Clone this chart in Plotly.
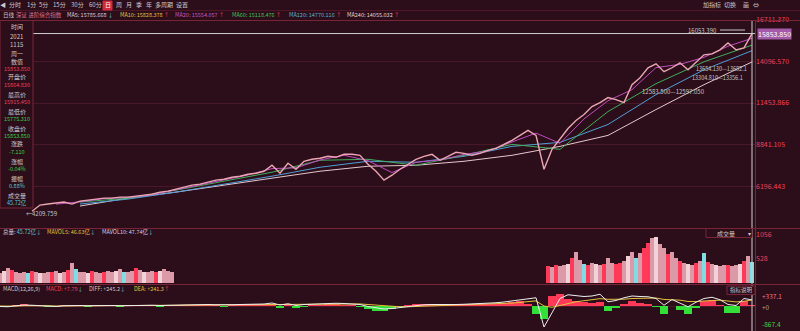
import plotly.graph_objects as go

# ---------------- data ----------------
# closing index values, one sample per chart step (last = 2021-11-15)
close = [4600, 4993, 5056, 5119, 5182, 5056, 5245, 5308, 5371, 5434,
         5434, 5497, 5497, 5560, 5623, 5686, 5812, 5875, 6001, 6127,
         6253, 6316, 6442, 6568, 6631, 6757, 6820, 6946, 7009, 7135,
         7513, 7009, 7639, 7261, 7765, 7891, 7954, 8080, 8017, 8206,
         8206, 8143, 7576, 7135, 6568, 6883, 7261, 7576, 7891, 8080,
         8206, 7828, 8080, 8332, 8269, 8143, 8269, 8458, 8584, 8836,
         9088, 9403, 9718, 9403, 7261, 8521, 9151, 9844, 10348, 10726,
         11230, 11482, 11797, 11671, 11482, 12616, 13057, 13687, 13939, 13435,
         13687, 14002, 13561, 14065, 14506, 14569, 14821, 15262, 14821, 14947,
         15853.85]
ma20 = [None, 5050, 5200, 5400, 5480, 5650, 5950, 6270, 6590, 6900, 7300,
        7350, 7850, 8150, 7800, 7050, 7700, 7850, 8200, 8420, 8980,
        9550, 8900, 10450, 11600, 12300, 13700, 13900, 14350, 15050, 15554.057]
ma60 = [None, 5182, 5434, 5938, 6505, 7072, 7828, 7891, 7513, 8143, 8836, 8521,
        10915, 12679, 14065, 15118.476]
ma120 = [None, 5056, 5371, 5812, 6316, 6820, 7387, 7765, 7702, 8080, 8710, 8962,
         10096, 11986, 13561, 14770.116]
ma240 = [None, 4930, 5434, 5812, 6253, 6694, 7135, 7450, 7513, 7765, 8143, 8710,
         9403, 11041, 12616, 14055.032]

price_ticks = [16711.370, 14096.570, 11453.866, 8841.105, 6196.443]

vol_left = [230, 260, 340, 280, 240, 220, 250, 230, 260, 240,
            220, 230, 250, 240, 260, 230, 250, 280, 440, 300,
            250, 240, 230, 260, 240, 220, 250, 270, 240, 260,
            310, 250, 240, 260, 330, 280, 250, 240, 260, 250,
            270, 300, 260, 240]
vol_right = [380, 360, 390, 370, 400, 420, 560, 680, 500, 420,
             400, 430, 410, 390, 420, 560, 450, 420, 430, 480,
             600, 680, 560, 650, 760, 880, 990, 1012, 860, 760,
             640, 680, 560, 480, 430, 410, 400, 440, 480, 650,
             470, 420, 400, 380, 390, 400, 380, 390, 420, 480,
             600, 457]
vol_ticks = [1056, 528]

diff = ([-20, -30, 10, 40, 30, 20, 0, -20, 10, 30, 20]
        + [10, 20, 30, 20, 10, 20, 30, 40, 30, 20, 30]
        + [40, 50, 40, 50, 60, 50, 40, 50, 60, 70, 60]
        + [80, 120, 40, 90, 20]
        + [60, 80, 90, 100, 110, 100, 90]
        + [60, -20, -80, -120, -100, -60]
        + [-20, 20, 50, 60, 50, 45, 60, 70]
        + [80, 90, 110, 130, 160, 200]
        + [250, 300, 330, -840, -250, 300, 450, 420, 380, 400, 470, 170, 220, 330, 400,
           380, 370, 300, 30, 260, 120, -30, 150, 300, 350, 250, 60, 20, 300, 245.2])
dea = ([0, -10, -5, 10, 20, 20, 10, 0, 0, 10, 15]
       + [15, 15, 20, 20, 15, 15, 20, 25, 25, 25, 25]
       + [30, 35, 38, 40, 45, 47, 46, 47, 50, 55, 57]
       + [62, 75, 68, 72, 62]
       + [62, 66, 71, 77, 83, 87, 88]
       + [82, 60, 30, 0, -20, -30]
       + [-30, -20, 0, 15, 25, 30, 38, 45]
       + [50, 58, 68, 80, 96, 117]
       + [143, 175, 205, 0, -50, 20, 106, 169, 211, 249, 293, 268, 258, 272, 298,
          314, 325, 320, 262, 262, 234, 181, 175, 200, 230, 234, 199, 163, 190, 241.3])
macd = ([-40, -40, 30, 60, 20, 0, -20, -40, 20, 40, 10]
        + [-10, 10, 20, 0, -10, 10, 20, 30, 10, -10, 10]
        + [20, 30, 5, 20, 30, 5, -10, 5, 20, 30, 5]
        + [36, 90, -56, 36, -84]
        + [-4, 28, 38, 46, 54, 26, 4]
        + [-30, -120, -180, -200, -120, -30]
        + [40, 80, 100, 90, 60, 40, 60, 60]
        + [60, 64, 84, 100, 128, 166]
        + [214, 100, -300, -520, 420, 480, 300, 200, 150, 120, 180, -200, -80, 100, 200,
           130, 90, -40, -300, 0, -150, -300, -50, 200, 240, 30, -270, -280, 220, 7.79])
macd_labels = ['+337.1', '+0', '-867.4']

# ---------------- style ----------------
W, H = 800, 331
def px(x): return x / W
def py(y): return 1 - y / H

BG = '#2b0e19'
GRID = '#4a1727'
BORDER = '#7a2438'
RED = '#f0405e'
GREEN = '#3cd24a'
CYAN = '#5fc8d8'
TXT = '#d2c6ca'
FONT = 'Noto Sans CJK SC, Noto Sans, sans-serif'
VCOL = {'p': '#dc9aa8', 'r': '#ff3a58', 'c': '#7fdce2', 'w': '#f0d2d8'}
vpat_l = 'pwprpppcrpwpprpwprpcppwrpprppwpcpprpwpprwppp'
vpat_r = 'rprppwrppcrpwprpprrpwpcprrpwpprpprpwprpcrpwpprppwrpc'

OFF = 4  # chart step of the first close sample
fig = go.Figure()

# price panel
xs = [OFF + k for k in range(len(close))]
fig.add_trace(go.Scatter(x=[OFF + 6 * j for j in range(len(ma240))], y=ma240, mode='lines',
                         line=dict(color='#e6c6cf', width=1), xaxis='x', yaxis='y'))
fig.add_trace(go.Scatter(x=[OFF + 6 * j for j in range(len(ma120))], y=ma120, mode='lines',
                         line=dict(color='#4f9ed6', width=1), xaxis='x', yaxis='y'))
fig.add_trace(go.Scatter(x=[OFF + 6 * j for j in range(len(ma60))], y=ma60, mode='lines',
                         line=dict(color='#3fae5c', width=1), xaxis='x', yaxis='y'))
fig.add_trace(go.Scatter(x=[OFF + 3 * j for j in range(len(ma20))], y=ma20, mode='lines',
                         line=dict(color='#c04cc0', width=1), xaxis='x', yaxis='y'))
fig.add_trace(go.Scatter(x=xs, y=close, mode='lines',
                         line=dict(color='#eba5b3', width=1.4), xaxis='x', yaxis='y'))

# volume panel
fig.add_trace(go.Bar(x=[0.5 * j for j in range(len(vol_left))], y=vol_left, width=0.4,
                     marker=dict(color=[VCOL[vpat_l[j % len(vpat_l)]] for j in range(len(vol_left))],
                                 line=dict(width=0)),
                     xaxis='x2', yaxis='y2'))
fig.add_trace(go.Bar(x=[68.5 + 0.5 * j for j in range(len(vol_right))], y=vol_right, width=0.4,
                     marker=dict(color=[VCOL[vpat_r[j % len(vpat_r)]] for j in range(len(vol_right))],
                                 line=dict(width=0)),
                     xaxis='x2', yaxis='y2'))

# MACD panel
mx = list(range(len(diff)))
fig.add_trace(go.Bar(x=mx, y=macd, width=0.9,
                     marker=dict(color=['#ff3a58' if v >= 0 else '#33e03a' for v in macd],
                                 line=dict(width=0)),
                     xaxis='x3', yaxis='y3'))
fig.add_trace(go.Scatter(x=mx, y=dea, mode='lines', line=dict(color='#e2c23e', width=1),
                         xaxis='x3', yaxis='y3'))
fig.add_trace(go.Scatter(x=mx, y=diff, mode='lines', line=dict(color='#eeeeee', width=1),
                         xaxis='x3', yaxis='y3'))

XR = [0, 94.375]
xdom = [0, px(755)]
xcommon = dict(domain=xdom, range=XR, showgrid=False, zeroline=False, showticklabels=False,
               ticks='', fixedrange=True)
fig.update_layout(
    width=W, height=H, margin=dict(l=0, r=0, t=0, b=0),
    paper_bgcolor=BG, plot_bgcolor=BG, showlegend=False, bargap=0,
    font=dict(family=FONT, size=6, color=TXT),
    xaxis=dict(**xcommon, anchor='y'),
    xaxis2=dict(**xcommon, anchor='y2'),
    xaxis3=dict(**xcommon, anchor='y3'),
    yaxis=dict(domain=[py(228), py(20)], range=[3540, 16711.37], side='right', anchor='x',
               tickvals=price_ticks, ticktext=[f'{v:.3f}' for v in price_ticks],
               tickfont=dict(size=7, color=RED), showgrid=True, gridcolor=GRID, gridwidth=1,
               zeroline=False, ticks='', fixedrange=True, automargin=False),
    yaxis2=dict(domain=[py(283), py(233)], range=[0, 1100], side='right', anchor='x2',
                tickvals=vol_ticks, ticktext=[str(v) for v in vol_ticks],
                tickfont=dict(size=7, color=RED), showgrid=False, zeroline=False, ticks='',
                fixedrange=True, automargin=False),
    yaxis3=dict(domain=[0, py(290)], range=[-1000, 640], side='right', anchor='x3',
                showticklabels=False, showgrid=False, zeroline=True, zerolinecolor=GRID,
                zerolinewidth=1, ticks='', fixedrange=True, automargin=False),
)

shapes = []
def hline(y, x0=0, x1=800, color=BORDER, w=1):
    shapes.append(dict(type='line', xref='paper', yref='paper', x0=px(x0), x1=px(x1),
                       y0=py(y), y1=py(y), line=dict(color=color, width=w)))
def vline(x, y0, y1, color=BORDER, w=1):
    shapes.append(dict(type='line', xref='paper', yref='paper', x0=px(x), x1=px(x),
                       y0=py(y0), y1=py(y1), line=dict(color=color, width=w)))
def rect(x0, y0, x1, y1, fill=BG, line=BORDER):
    shapes.append(dict(type='rect', xref='paper', yref='paper', x0=px(x0), x1=px(x1),
                       y0=py(y1), y1=py(y0), fillcolor=fill, line=dict(color=line, width=1)))

# crosshair at last bar
shapes.append(dict(type='line', xref='paper', yref='y', x0=0, x1=px(755), y0=close[-1], y1=close[-1],
                   line=dict(color='#cfcfcf', width=1)))
shapes.append(dict(type='line', xref='x', yref='paper', x0=xs[-1], x1=xs[-1], y0=0, y1=py(20),
                   line=dict(color='#cfcfcf', width=1)))
hline(10.5, color='#4e1626')
hline(20.5)
hline(228.5)
hline(284.5)
vline(755.5, 20, 331)
rect(0, 20.5, 33, 208)
rect(103, 1, 112, 10, fill='#d22a40', line='#d22a40')
rect(706, 228.5, 752, 237.5)
rect(727, 286, 755, 294.5)
# leader line of the peak label
hline(30, 720, 745, color='#c8c8c8')
fig.update_layout(shapes=shapes)

ann = []
def txt(x, y, s, color=TXT, size=6, xa='left', bg=None, yref='paper'):
    d = dict(x=px(x), y=(py(y) if yref == 'paper' else y), xref='paper', yref=yref, text=s,
             showarrow=False, xanchor=xa, yanchor='middle',
             font=dict(family=FONT, size=size, color=color))
    if bg:
        d['bgcolor'] = bg
        d['borderpad'] = 0
    ann.append(d)

def arr(s, up):
    return s + (f'<span style="color:{RED}">↑</span>' if up else f'<span style="color:{CYAN}">↓</span>')

# toolbar
for s, x in [('◀', 3), ('分时', 15), ('1分', 31), ('5分', 43.5), ('15分', 59), ('30分', 77),
             ('60分', 95), ('日', 107.5), ('周', 118.5), ('月', 128.5), ('季', 138.5),
             ('年', 148.5), ('多周期', 164), ('设置', 182),
             ('加指标', 712), ('切换', 730), ('画', 746), ('⇔', 756)]:
    txt(x, 5, s, color=('#ffffff' if s == '日' else TXT), xa='center')

# MA legend row
txt(1, 14.5, '日线', color=TXT, size=5.5)
txt(14, 14.5, '深证 进阶综合指数', color='#e0708a', size=5.5)
txt(65, 14.5, arr('MA5: 15785.668 ', False), color='#d6cfe6', size=5.5)
txt(118, 14.5, arr('MA10: 15828.378 ', True), color='#e2c23e', size=5.5)
txt(173, 14.5, arr('MA20: 15554.057 ', True), color='#c857c8', size=5.5)
txt(230, 14.5, arr('MA60: 15118.476 ', True), color='#3fc25a', size=5.5)
txt(287, 14.5, arr('MA120: 14770.116 ', True), color='#5aaedc', size=5.5)
txt(345, 14.5, arr('MA240: 14055.032 ', True), color='#e4d6da', size=5.5)

# info box
info = [('时间', TXT), ('2021', TXT), ('1115', TXT), ('周一', TXT), ('数值', TXT),
        ('15853.850', RED), ('开盘价', TXT), ('15864.830', RED), ('最高价', TXT),
        ('15915.450', RED), ('最低价', TXT), ('15775.310', GREEN), ('收盘价', TXT),
        ('15853.850', GREEN), ('涨跌', TXT), ('-7.110', GREEN), ('涨幅', TXT),
        ('-0.04%', GREEN), ('振幅', TXT), ('0.88%', CYAN), ('成交量', TXT), ('45.72亿', CYAN)]
ys = [26, 37, 45, 53, 61, 69, 77, 85, 94, 102, 111, 119, 128, 136, 144, 152, 161, 169, 178, 186, 195, 203]
for (s, c), y in zip(info, ys):
    txt(16.5, y, s, color=c, size=(6 if c == TXT else 5.5), xa='center')

# chart labels
txt(686, 30, '16053.390', color='#c8c8c8', size=6)
txt(694, 69, '13654.130—13682.1', color='#c8c8c8', size=5.5)
txt(690, 78, '13304.810—13356.1', color='#c8c8c8', size=5.5)
txt(640, 91, '12583.500—12597.050', color='#c8c8c8', size=6)
txt(24, 213, '←4209.759', color='#c8c8c8', size=6)
txt(757, close[-1], f'{close[-1]:.3f}', color='#ffffff', size=7, bg='#a45aa8', yref='y')

# volume header
txt(1, 232, '总量: <span style="color:#5fc8d8">45.72亿</span>' + arr('', False), color=TXT, size=5.5)
txt(45, 232, arr('MAVOL5: 46.63亿', False), color='#e2c23e', size=5.5)
txt(100, 232, arr('MAVOL10: 47.74亿', False), color='#d6cfe6', size=5.5)
txt(726, 233, '成交量', color=TXT, size=6, xa='center')
txt(746, 233, '▾', color=TXT, size=6)

# MACD header and labels
txt(1, 289, 'MACD(12,26,9)', color=TXT, size=5.5)
txt(44, 289, arr('MACD: +7.79', False), color=RED, size=5.5)
txt(87, 289, arr('DIFF: +245.2', False), color=TXT, size=5.5)
txt(132, 289, arr('DEA: +241.3', True), color='#e2c23e', size=5.5)
txt(741, 290, '指标说明', color=TXT, size=5.5, xa='center')
for s, y, c in zip(macd_labels, [296, 307, 324], ['#f07088', '#b0a0a6', GREEN]):
    txt(760, y, s, color=c, size=6.5)

fig.update_layout(annotations=ann)
fig.write_html('out.html', config={'displayModeBar': False})
